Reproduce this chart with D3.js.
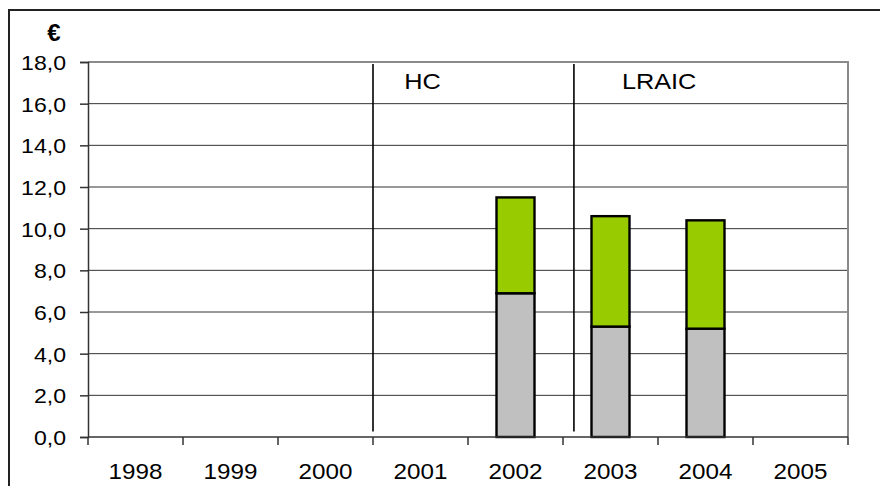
<!DOCTYPE html>
<html>
<head>
<meta charset="utf-8">
<script src="https://cdn.jsdelivr.net/npm/d3@7"></script>
<style>
  html, body { margin: 0; padding: 0; background: #fff; }
  svg { display: block; }
  text { font-family: "Liberation Sans", Arial, sans-serif; fill: #000; }
</style>
</head>
<body>
<svg id="chart" width="880" height="486"></svg>
<script>
// Cost per year, split in two stacked components (€)
const years = ["1998", "1999", "2000", "2001", "2002", "2003", "2004", "2005"];
const baseCost = [null, null, null, null, 6.9, 5.3, 5.2, null];
const addedCost = [null, null, null, null, 4.6, 5.3, 5.2, null];
const yTicks = [0, 2, 4, 6, 8, 10, 12, 14, 16, 18];
// Regime separators, positioned in category units along the x axis
const regimes = [
  { label: "HC", at: 3.0, labelAt: 3.33 },
  { label: "LRAIC", at: 5.115, labelAt: 5.62 }
];

const svg = d3.select("#chart");
const W = 880, H = 486;
const plot = { left: 88, right: 848, top: 62, bottom: 437 };

const x = d3.scaleBand().domain(years).range([plot.left, plot.right]).paddingInner(0.6).paddingOuter(0.3);
const xu = d3.scaleLinear().domain([0, years.length]).range([plot.left, plot.right]);
const y = d3.scaleLinear().domain([0, 18]).range([plot.bottom, plot.top]);

const fmt = v => d3.format(".1f")(v).replace(".", ",");

// Outer chart frame (right and bottom edges fall outside the view)
svg.append("rect")
  .attr("x", 9).attr("y", 10).attr("width", W + 20).attr("height", H + 20)
  .attr("fill", "none").attr("stroke", "#222").attr("stroke-width", 2);

// Horizontal gridlines
svg.append("g").selectAll("line").data(yTicks.filter(t => t > 0 && t < 18)).join("line")
  .attr("x1", plot.left).attr("x2", plot.right)
  .attr("y1", d => y(d)).attr("y2", d => y(d))
  .attr("stroke", "#333").attr("stroke-width", 1);

// Plot area border (top and right)
svg.append("path")
  .attr("d", `M${plot.left},${y(18)}H${plot.right}V${plot.bottom}`)
  .attr("fill", "none").attr("stroke", "#8a8a8a").attr("stroke-width", 2);

// Stacked bars
const stackData = years.map((yr, i) => ({ yr, a: baseCost[i], b: addedCost[i] }))
  .filter(d => d.a != null);
const bars = svg.append("g");
bars.selectAll("rect.base").data(stackData).join("rect")
  .attr("class", "base")
  .attr("x", d => x(d.yr)).attr("width", x.bandwidth())
  .attr("y", d => y(d.a)).attr("height", d => y(0) - y(d.a))
  .attr("fill", "#c0c0c0").attr("stroke", "#000").attr("stroke-width", 2.4);
bars.selectAll("rect.added").data(stackData).join("rect")
  .attr("class", "added")
  .attr("x", d => x(d.yr)).attr("width", x.bandwidth())
  .attr("y", d => y(d.a + d.b)).attr("height", d => y(d.a) - y(d.a + d.b))
  .attr("fill", "#99cc00").attr("stroke", "#000").attr("stroke-width", 2.4);

// Y axis
const yAxis = svg.append("g").attr("transform", `translate(${plot.left},0)`)
  .call(d3.axisLeft(y).tickValues(yTicks).tickFormat(fmt).tickSize(8).tickPadding(14));
yAxis.select(".domain").attr("stroke", "#333").attr("stroke-width", 1.5);
yAxis.selectAll(".tick line").attr("stroke", "#333").attr("stroke-width", 1.5);
yAxis.selectAll(".tick text")
  .attr("font-size", 21).attr("font-family", "Liberation Sans, Arial, sans-serif")
  .attr("fill", "#000").attr("dy", "0.36em")
  .attr("transform", "scale(1.1,1)")
  .attr("x", -22 / 1.1);

// X axis: ticks at category boundaries, labels centred in each band
const xAxisG = svg.append("g").attr("transform", `translate(0,${plot.bottom})`);
xAxisG.append("line").attr("x1", plot.left).attr("x2", plot.right)
  .attr("stroke", "#333").attr("stroke-width", 1.5);
xAxisG.selectAll("line.tick").data(d3.range(years.length + 1)).join("line")
  .attr("class", "tick")
  .attr("x1", d => xu(d)).attr("x2", d => xu(d)).attr("y1", 0).attr("y2", 8)
  .attr("stroke", "#333").attr("stroke-width", 1.5);
xAxisG.selectAll("g.lbl").data(years).join("g")
  .attr("class", "lbl")
  .attr("transform", d => `translate(${x(d) + x.bandwidth() / 2},42) scale(1.1,1)`)
  .append("text").attr("text-anchor", "middle").attr("font-size", 22).text(d => d);

// Regime separators and their labels
svg.append("g").selectAll("line").data(regimes).join("line")
  .attr("x1", d => xu(d.at)).attr("x2", d => xu(d.at))
  .attr("y1", y(17.9)).attr("y2", y(0.27))
  .attr("stroke", "#000").attr("stroke-width", 1.6);
svg.append("g").selectAll("g").data(regimes).join("g")
  .attr("transform", d => `translate(${xu(d.labelAt)},${y(16.7)}) scale(1.15,1)`)
  .append("text").attr("font-size", 22).text(d => d.label);

// Unit label
svg.append("text").attr("x", 54).attr("y", 41).attr("text-anchor", "middle")
  .attr("font-size", 24).attr("font-weight", "bold").text("€");
</script>
</body>
</html>
